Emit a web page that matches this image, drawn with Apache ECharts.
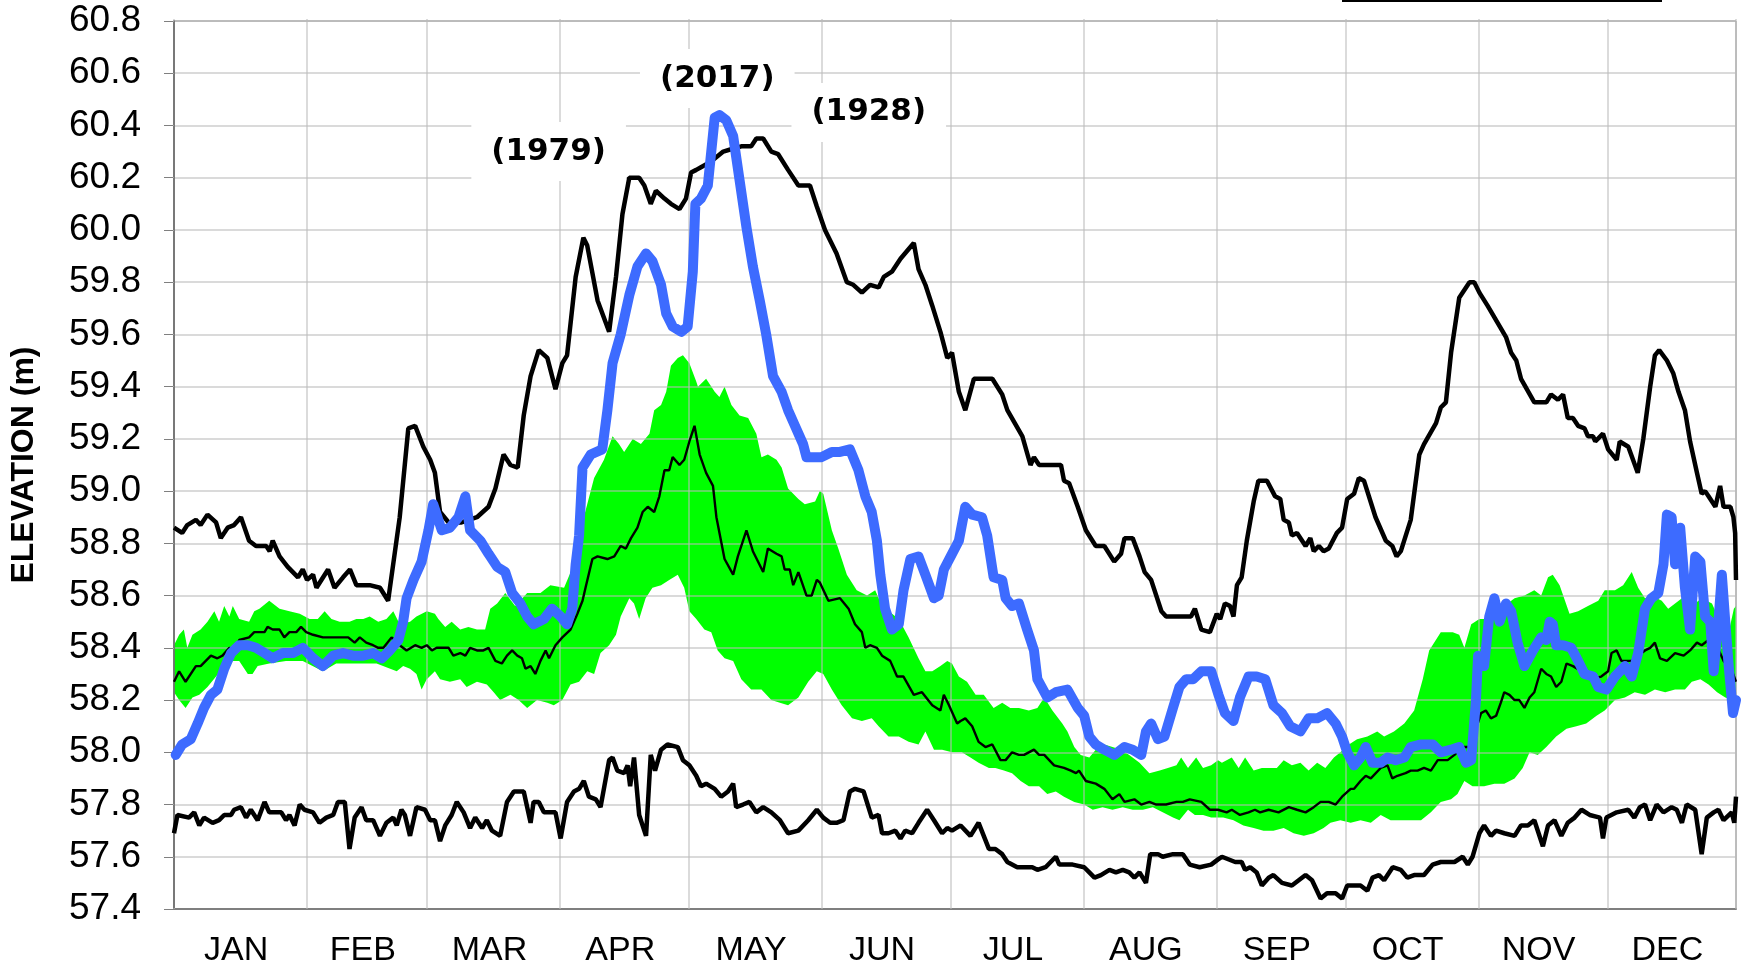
<!DOCTYPE html>
<html>
<head>
<meta charset="utf-8">
<script src="https://cdn.jsdelivr.net/npm/echarts@6/dist/echarts.min.js"></script>
<style>
html,body{margin:0;padding:0;background:#fff}
#chart{width:1746px;height:968px}
</style>
</head>
<body>
<div id="chart"></div>
<script>
// day of year (0 = Jan 1) and elevation (m)
var months = ['JAN','FEB','MAR','APR','MAY','JUN','JUL','AUG','SEP','OCT','NOV','DEC'];
var monthStart = [0,31,59,90,120,151,181,212,243,273,304,334,364];
var monthMid = [14.5,44,73.5,104,134.5,165,195.5,226.5,257,287.5,318,348];

var maxLine = [[0,58.86],[1.9,58.84],[3.1,58.87],[5.1,58.89],[6.2,58.87],[7.8,58.91],[9.8,58.88],[10.9,58.82],[12.5,58.86],[14,58.87],[15.6,58.9],[17.5,58.81],[19.1,58.79],[21.5,58.79],[22.3,58.77],[23,58.81],[24.6,58.75],[26.5,58.71],[28.9,58.67],[30,58.7],[31,58.66],[32.4,58.68],[33.2,58.63],[35.9,58.7],[37.4,58.63],[39.4,58.67],[41,58.7],[42.5,58.64],[45.6,58.64],[48,58.63],[49.9,58.58],[52.6,58.9],[54.6,59.24],[56.2,59.25],[58.1,59.17],[59.7,59.12],[60.8,59.07],[62,58.92],[64,58.88],[67,58.88],[70.6,58.9],[73.3,58.94],[74.9,59.01],[76.8,59.14],[78.4,59.1],[80.1,59.09],[81.5,59.29],[83.1,59.44],[85,59.54],[87,59.51],[88.9,59.39],[90.5,59.49],[91.6,59.52],[93.6,59.82],[95.4,59.97],[96.3,59.94],[98.7,59.73],[101.4,59.61],[103,59.82],[104.5,60.06],[106.1,60.2],[108.4,60.2],[109.6,60.17],[111.1,60.1],[112.3,60.15],[114.3,60.12],[115.8,60.1],[117.8,60.08],[119.3,60.12],[120.5,60.22],[121.7,60.23],[122.8,60.24],[125,60.26],[128,60.3],[130,60.31],[132.2,60.32],[134.5,60.32],[135.7,60.35],[137.3,60.35],[139.2,60.3],[140.8,60.29],[143.1,60.23],[145.5,60.17],[148.2,60.17],[149.8,60.09],[151.7,60],[154.4,59.91],[156.8,59.8],[158.3,59.79],[160.3,59.76],[162.2,59.79],[164.2,59.78],[165.4,59.82],[167.3,59.84],[169.3,59.89],[172.4,59.95],[173.5,59.85],[175.1,59.79],[176.7,59.71],[178.6,59.61],[180.2,59.51],[181.3,59.53],[182.9,59.38],[184.4,59.31],[186.4,59.43],[190.7,59.43],[193,59.37],[194.2,59.31],[197.7,59.21],[199.6,59.1],[200.4,59.13],[201.6,59.1],[206.7,59.1],[207.4,59.04],[208.6,59.03],[210.6,58.94],[212.5,58.85],[214.8,58.79],[216.8,58.79],[219.1,58.73],[220.7,58.76],[221.5,58.82],[223.4,58.82],[225,58.75],[226.2,58.69],[227.7,58.66],[230.1,58.54],[231.2,58.52],[237,58.52],[237.9,58.55],[239.4,58.47],[241.4,58.46],[243,58.53],[243.8,58.51],[244.9,58.57],[246.1,58.56],[246.9,58.52],[247.7,58.64],[248.8,58.67],[250,58.81],[251.6,58.96],[252.7,59.04],[254.7,59.04],[256.6,58.98],[257.8,58.97],[258.6,58.89],[259.8,58.88],[260.5,58.83],[261.7,58.84],[263.7,58.79],[264.8,58.82],[265.6,58.77],[266.8,58.79],[267.9,58.77],[269.1,58.78],[271,58.84],[272.2,58.86],[273.4,58.97],[275,58.99],[276.1,59.05],[277.3,59.04],[280,58.9],[282.4,58.81],[283.9,58.79],[284.9,58.75],[285.9,58.77],[288.2,58.89],[290.2,59.14],[291.3,59.18],[294.1,59.26],[295.2,59.32],[296.4,59.34],[297.6,59.53],[299.5,59.74],[301.9,59.8],[303,59.8],[304.2,59.76],[306.1,59.71],[310.4,59.59],[311.6,59.53],[312.8,59.5],[313.9,59.43],[317,59.34],[319.8,59.34],[320.9,59.37],[322.5,59.35],[323.7,59.37],[324.8,59.28],[326,59.28],[327.2,59.25],[328.7,59.24],[329.5,59.21],[330.7,59.21],[331.2,59.19],[333,59.22],[334.2,59.16],[336.2,59.12],[336.9,59.19],[338.9,59.17],[341.1,59.07],[342.4,59.2],[344,59.4],[345.1,59.52],[346.1,59.54],[347.9,59.5],[349.4,59.45],[350.6,59.38],[352.1,59.31],[353.3,59.19],[354.9,59.07],[356,58.99],[356.8,59],[357.6,58.98],[359.2,58.94],[360.3,59.02],[361.1,58.94],[362.7,58.94],[363.4,58.9],[363.8,58.84],[364,58.66]];

var minLine = [[0,57.69],[0.8,57.76],[3.5,57.75],[4.7,57.77],[5.9,57.72],[7,57.75],[9,57.73],[10.5,57.74],[11.7,57.76],[13.3,57.76],[14,57.78],[15.6,57.79],[16.8,57.75],[17.9,57.78],[19.5,57.74],[21.1,57.81],[22.2,57.77],[25,57.77],[26.1,57.74],[26.9,57.76],[28.1,57.72],[29.3,57.8],[30.4,57.78],[32.4,57.77],[33.9,57.73],[35.5,57.75],[37.1,57.76],[38.2,57.81],[39.8,57.81],[40.9,57.63],[42.1,57.75],[43.7,57.79],[44.8,57.74],[46.4,57.74],[48,57.68],[49.5,57.73],[51.1,57.75],[51.9,57.72],[53,57.78],[53.8,57.76],[55,57.68],[56.5,57.79],[58.5,57.78],[59.7,57.74],[60.8,57.74],[62,57.66],[63.2,57.72],[64.7,57.76],[65.9,57.81],[67.5,57.77],[69,57.71],[70.2,57.75],[71.8,57.71],[72.9,57.74],[74.1,57.7],[76,57.68],[77.6,57.81],[79.2,57.85],[81.5,57.85],[83.1,57.73],[83.8,57.81],[85,57.81],[86.2,57.77],[88.9,57.77],[90.1,57.67],[91.6,57.81],[93.2,57.85],[94.4,57.86],[95.5,57.89],[96.7,57.83],[98.3,57.82],[99.4,57.79],[101.4,57.97],[102.2,57.98],[103.3,57.93],[104.9,57.92],[105.7,57.95],[106.3,57.87],[107.2,57.98],[108.4,57.76],[110,57.68],[111.1,57.99],[112.1,57.93],[113.5,58.01],[115,58.03],[117.4,58.02],[118.6,57.97],[120.1,57.95],[121.7,57.91],[122.8,57.87],[124,57.88],[126,57.86],[127.5,57.83],[129.1,57.85],[130.3,57.88],[131,57.79],[132.6,57.8],[134.1,57.81],[135.7,57.77],[137.3,57.79],[139.2,57.77],[141.2,57.74],[143.1,57.69],[145.5,57.7],[147.8,57.74],[149.8,57.78],[151.3,57.75],[152.9,57.73],[154.4,57.73],[156,57.74],[157.5,57.85],[158.7,57.86],[160.7,57.85],[162.6,57.75],[164.2,57.76],[165,57.69],[166.5,57.69],[168.1,57.7],[169.3,57.67],[170.4,57.7],[172,57.69],[173.5,57.73],[175.5,57.78],[177.1,57.74],[179,57.69],[180.2,57.71],[181.3,57.7],[183.3,57.72],[185.6,57.68],[187.5,57.73],[189.9,57.63],[191.4,57.63],[193,57.61],[194.2,57.58],[196.5,57.56],[200,57.56],[201.2,57.55],[203.1,57.56],[205.5,57.6],[206.3,57.57],[209.4,57.57],[212.1,57.56],[213.3,57.54],[214.5,57.52],[216,57.53],[218,57.55],[219.5,57.54],[221.1,57.55],[222.6,57.54],[223.8,57.52],[225,57.54],[226.5,57.5],[227.5,57.61],[229.3,57.61],[230.4,57.6],[232.8,57.61],[235.1,57.61],[236.7,57.57],[239,57.56],[241.7,57.57],[243.3,57.59],[244.2,57.6],[247.3,57.58],[248.8,57.58],[249.6,57.55],[250.8,57.56],[252.3,57.54],[253.5,57.49],[255.1,57.52],[256.2,57.53],[258.2,57.5],[260.5,57.49],[262.1,57.51],[263.7,57.53],[265.2,57.51],[267.2,57.44],[268.7,57.46],[270.7,57.46],[272.2,57.44],[273.4,57.49],[275.4,57.49],[276.5,57.49],[278.1,57.47],[279.3,57.52],[280.8,57.53],[282,57.51],[284,57.56],[285.9,57.55],[287.4,57.52],[289,57.53],[291.3,57.53],[293.3,57.57],[295.2,57.58],[298.4,57.58],[300.3,57.6],[301.5,57.57],[302.6,57.6],[304.2,57.69],[305.3,57.72],[306.9,57.68],[308.1,57.7],[310,57.69],[312.4,57.68],[313.9,57.72],[315.5,57.72],[317,57.74],[319,57.64],[320.2,57.72],[321.7,57.74],[323.3,57.68],[324.8,57.73],[326.4,57.75],[328,57.78],[329.9,57.76],[332.3,57.75],[333,57.67],[333.8,57.75],[336.2,57.77],[338.9,57.78],[340.3,57.75],[341.6,57.79],[342.8,57.8],[344,57.74],[345.5,57.8],[347.1,57.77],[349,57.79],[350.2,57.78],[351.4,57.73],[352.5,57.8],[354.5,57.78],[356,57.61],[357.2,57.75],[358.8,57.77],[359.9,57.78],[361.1,57.74],[363,57.77],[363.6,57.73],[364,57.83]];

var meanLine = [[0,58.27],[1.2,58.31],[2.7,58.27],[5.1,58.33],[6.2,58.33],[7.4,58.35],[8.6,58.37],[10.1,58.36],[11.3,58.37],[12.9,58.4],[14,58.39],[15.2,58.43],[17.5,58.44],[18.7,58.46],[19.9,58.46],[21.1,58.46],[21.8,58.48],[23,58.47],[24.6,58.47],[25.7,58.44],[26.9,58.46],[28.5,58.46],[29.6,58.48],[30.8,58.46],[32.4,58.45],[34.7,58.44],[37.8,58.44],[40.6,58.44],[42.1,58.42],[43.3,58.44],[44.8,58.42],[46.4,58.41],[47.6,58.4],[48.8,58.4],[50.7,58.44],[52.6,58.41],[54.2,58.39],[56.2,58.41],[57.7,58.4],[58.9,58.41],[60.1,58.39],[61.2,58.4],[64,58.4],[65.1,58.37],[66.7,58.38],[67.9,58.37],[69,58.4],[70.6,58.39],[72.1,58.39],[73.3,58.4],[74.9,58.35],[76.4,58.34],[77.6,58.37],[78.8,58.39],[80,58.37],[81.1,58.36],[81.9,58.32],[83.1,58.33],[84.2,58.3],[85.4,58.35],[86.6,58.39],[87.4,58.36],[88.9,58.41],[90.5,58.44],[92.4,58.47],[94,58.53],[95.2,58.58],[95.9,58.63],[97.5,58.74],[98.7,58.75],[101,58.74],[102.6,58.75],[104.1,58.79],[105.3,58.78],[106.5,58.82],[108,58.86],[109.2,58.92],[110.4,58.94],[111.9,58.92],[113.1,58.98],[114.3,59.08],[115.4,59.08],[116.2,59.13],[117.8,59.1],[118.9,59.12],[120.1,59.19],[121.3,59.25],[122.5,59.14],[124,59.07],[125.6,59.02],[126.4,58.9],[128.3,58.74],[130.3,58.68],[131.4,58.75],[133.4,58.85],[134.9,58.77],[137.3,58.69],[138.4,58.78],[140.4,58.76],[141.6,58.75],[142.3,58.7],[143.5,58.7],[144.3,58.64],[145.5,58.69],[147.4,58.6],[148.6,58.6],[149.8,58.66],[150.5,58.65],[152.5,58.58],[155.2,58.59],[157.2,58.55],[158.7,58.49],[160.3,58.46],[161.1,58.4],[162.2,58.41],[163.8,58.4],[165,58.37],[166.9,58.35],[168.5,58.29],[170,58.29],[172.4,58.22],[174.3,58.23],[176.7,58.18],[178.6,58.16],[179.4,58.22],[180.6,58.18],[182.5,58.11],[183.3,58.12],[184.4,58.13],[186,58.1],[187.5,58.04],[189.1,58.02],[190.7,58.03],[192.6,57.97],[193.8,57.97],[195.3,58],[196.9,57.99],[198.1,57.99],[200.4,58.01],[201.6,57.99],[202.8,57.99],[205.1,57.95],[207.4,57.94],[209,57.93],[210.2,57.92],[210.9,57.93],[212.5,57.89],[214.8,57.88],[216.8,57.86],[218.7,57.82],[220.3,57.84],[221.5,57.81],[223.8,57.82],[225.4,57.8],[227.3,57.81],[228.9,57.8],[231.2,57.8],[233.6,57.81],[235.1,57.81],[236.7,57.82],[239.4,57.81],[241.4,57.78],[243.3,57.78],[245.3,57.77],[246.5,57.78],[248.4,57.76],[250.4,57.77],[251.9,57.78],[253.1,57.77],[255.1,57.78],[257.4,57.77],[259.8,57.79],[261.7,57.78],[263.7,57.77],[265.6,57.79],[267.2,57.81],[269.1,57.81],[270.7,57.8],[272.2,57.83],[274.2,57.86],[275,57.86],[276.5,57.89],[277.7,57.91],[278.9,57.9],[281.2,57.94],[282.8,57.95],[283.9,57.9],[285.1,57.91],[287,57.92],[288.2,57.93],[289.8,57.93],[291.3,57.94],[292.9,57.93],[294.5,57.97],[296.8,57.97],[298.4,57.99],[300,58.02],[302,58.02],[303.8,58.11],[304.6,58.15],[305.7,58.16],[306.9,58.13],[308.1,58.14],[309.2,58.19],[310,58.23],[311.2,58.22],[312.4,58.2],[313.5,58.2],[314.7,58.17],[315.9,58.21],[317,58.23],[318.6,58.32],[319.8,58.3],[320.9,58.29],[322.1,58.25],[323.3,58.27],[324.5,58.34],[326,58.33],[328,58.31],[329.9,58.28],[332.6,58.29],[334.2,58.31],[335,58.38],[336.2,58.39],[337.3,58.35],[339.7,58.35],[341.2,58.37],[342.8,58.39],[344,58.4],[345.1,58.42],[346.3,58.36],[347.9,58.35],[349.8,58.38],[351.8,58.37],[353.3,58.39],[354.9,58.42],[356,58.41],[357.6,58.43],[359.2,58.42],[361.1,58.35],[363.1,58.31],[364,58.27]];

var bandHigh = [[0,58.41],[1.2,58.45],[2.3,58.47],[3.1,58.4],[4.3,58.45],[6.2,58.47],[7.8,58.5],[9.4,58.54],[10.5,58.5],[11.7,58.56],[12.9,58.52],[13.7,58.56],[15.2,58.51],[17.5,58.5],[18.7,58.54],[19.9,58.55],[22.2,58.58],[24.6,58.55],[26.9,58.54],[29.3,58.53],[31.6,58.51],[33.5,58.51],[35.1,58.54],[36.7,58.51],[38.6,58.5],[40.9,58.5],[42.5,58.51],[44.1,58.51],[45.6,58.52],[47.6,58.5],[49.5,58.51],[51.1,58.54],[52.6,58.49],[55,58.5],[56.5,58.52],[58.9,58.54],[60.8,58.53],[61.6,58.51],[63.2,58.48],[64.7,58.5],[66.7,58.47],[68.6,58.48],[70.6,58.47],[72.5,58.47],[73.7,58.55],[75.3,58.57],[77.2,58.61],[79.5,58.56],[82.3,58.61],[85.4,58.61],[87.7,58.64],[90.9,58.63],[93.2,58.72],[95.5,58.9],[97.9,59.05],[100.2,59.12],[102.2,59.21],[103.7,59.18],[104.9,59.15],[106.9,59.2],[108.8,59.18],[110.8,59.22],[111.9,59.31],[113.5,59.33],[114.7,59.38],[115.8,59.48],[117.4,59.51],[118.6,59.52],[120.1,59.49],[121.7,59.42],[122.1,59.4],[124,59.43],[126,59.38],[127.1,59.36],[128.3,59.4],[129.9,59.33],[131.8,59.29],[133.8,59.28],[135.7,59.22],[136.9,59.13],[138.4,59.14],[140.4,59.12],[141.6,59.09],[143.1,59.01],[145.5,58.97],[147,58.95],[149.4,58.96],[150.5,59],[151.3,58.99],[153.3,58.85],[154.8,58.78],[156.8,58.68],[159.1,58.62],[161.5,58.6],[163.4,58.62],[165,58.56],[168.9,58.51],[171.2,58.44],[173.5,58.36],[175.1,58.31],[176.7,58.31],[178.6,58.33],[180.2,58.35],[181.3,58.34],[182.9,58.29],[184.8,58.27],[186.8,58.22],[188.7,58.22],[191,58.17],[193,58.19],[194.9,58.17],[196.9,58.17],[199.2,58.16],[201.2,58.17],[202.8,58.21],[204.7,58.16],[207,58.11],[208.2,58.08],[209.8,58.02],[211.3,57.99],[213.3,57.98],[214.8,58.01],[216.8,58.03],[218.7,58.02],[220.7,58.01],[222.6,57.99],[225,57.96],[227.3,57.92],[229.7,57.93],[231.6,57.94],[233.6,57.95],[234.7,57.98],[236.3,57.94],[238.2,57.98],[239.8,57.94],[241.7,57.95],[243.3,57.97],[244.2,57.96],[246.5,57.98],[248.1,57.94],[249.6,57.98],[251.6,57.93],[253.5,57.94],[255.5,57.94],[257,57.94],[258.6,57.97],[260.5,57.95],[262.5,57.96],[264.4,57.93],[266.4,57.96],[268.3,57.94],[270.3,57.98],[271.8,58],[273.8,58.03],[275.7,58.05],[278.1,58.06],[280.4,58.08],[282,58.06],[284.3,58.08],[286.7,58.11],[289,58.16],[291,58.28],[292.5,58.39],[295.2,58.46],[298,58.46],[299.5,58.45],[300.7,58.4],[302.3,58.49],[304.2,58.51],[305.3,58.51],[307.7,58.55],[310,58.56],[312.4,58.59],[314.7,58.6],[317,58.62],[318.6,58.6],[320.2,58.67],[321.3,58.68],[322.9,58.64],[325.2,58.53],[327.2,58.54],[329.5,58.56],[331.9,58.58],[333.4,58.62],[335.8,58.62],[337.7,58.64],[339.7,58.69],[341.2,58.63],[342.8,58.59],[344.3,58.6],[346.7,58.58],[348.2,58.55],[349.8,58.57],[351.4,58.59],[353.7,58.56],[356,58.59],[358.4,58.57],[360.3,58.5],[362.3,58.46],[363.5,58.55],[364,58.56]];

var bandLow = [[0,58.23],[1.2,58.2],[2.7,58.17],[4.3,58.21],[5.9,58.22],[7.8,58.25],[9.8,58.29],[11.7,58.33],[13.7,58.35],[15.2,58.35],[17.2,58.3],[18.3,58.3],[19.5,58.33],[22.2,58.34],[26.1,58.35],[30,58.35],[34.7,58.31],[37.8,58.34],[42.5,58.34],[47.2,58.34],[51.9,58.31],[53.4,58.33],[55,58.32],[56.5,58.3],[57.7,58.24],[58.9,58.28],[60.8,58.31],[62,58.28],[64.3,58.27],[66.7,58.28],[68.2,58.25],[70.6,58.27],[72.9,58.26],[74.5,58.23],[76,58.2],[78.4,58.22],[80.3,58.2],[82.3,58.17],[84.6,58.2],[87,58.19],[88.5,58.18],[90.5,58.2],[92.4,58.26],[94.4,58.27],[96.3,58.31],[97.9,58.3],[99.4,58.38],[101.4,58.41],[103,58.45],[104.1,58.52],[106.1,58.59],[107.2,58.57],[108.4,58.51],[109.9,58.59],[111.5,58.63],[113.5,58.64],[115.4,58.66],[117.4,58.68],[118.9,58.63],[120.1,58.54],[121.7,58.51],[123.6,58.47],[125.2,58.46],[126.7,58.39],[128.3,58.36],[130.3,58.35],[132.2,58.28],[134.5,58.24],[136.9,58.24],[139.2,58.2],[141.2,58.19],[143.1,58.18],[145.5,58.21],[147.8,58.27],[149.8,58.31],[151.3,58.3],[153.3,58.24],[155.6,58.18],[158,58.13],[160.3,58.12],[162.6,58.13],[164.2,58.1],[166.5,58.06],[168.9,58.06],[171.2,58.04],[173.5,58.03],[175.1,58.08],[177.1,58.01],[179,58.01],[181.3,58],[183.6,58],[185.6,57.98],[187.5,57.96],[189.9,57.94],[191.4,57.94],[193.4,57.93],[195.3,57.92],[197.3,57.89],[199.2,57.87],[201.6,57.87],[203.5,57.84],[205.5,57.85],[207.4,57.83],[209.8,57.81],[212.1,57.8],[214.1,57.78],[216.4,57.79],[218.7,57.78],[221.1,57.79],[223.4,57.78],[225.8,57.78],[228.1,57.79],[230.4,57.77],[232.8,57.75],[234.3,57.74],[236.3,57.78],[237.9,57.76],[239.8,57.76],[241.7,57.75],[243.3,57.75],[244.5,57.75],[246.9,57.74],[249.2,57.72],[251.6,57.71],[253.9,57.7],[256.2,57.7],[258.6,57.71],[260.9,57.69],[263.3,57.68],[265.6,57.69],[267.9,57.71],[269.5,57.73],[271.8,57.74],[274.2,57.73],[276.5,57.74],[278.9,57.73],[281.2,57.76],[283.5,57.74],[285.9,57.74],[288.2,57.74],[290.6,57.74],[292.9,57.77],[295.2,57.81],[297.6,57.82],[299.1,57.84],[300.7,57.89],[302.6,57.87],[305.3,57.87],[307.7,57.88],[310,57.88],[312.4,57.9],[314.3,57.94],[315.9,58],[317.8,57.99],[319.8,58.02],[322.1,58.06],[324.5,58.09],[326.8,58.1],[329.1,58.11],[331.5,58.14],[333.4,58.16],[335.8,58.2],[338.1,58.21],[340.4,58.23],[342.8,58.22],[345.1,58.24],[347.5,58.23],[349.8,58.24],[352.1,58.24],[353.7,58.27],[355.7,58.28],[357.6,58.26],[359.6,58.23],[361.5,58.21],[363.5,58.2],[364,58.19]];

var year2017 = [[0.4,57.99],[1.9,58.03],[3.9,58.05],[5.5,58.11],[7,58.17],[8.6,58.22],[10.1,58.24],[11.7,58.32],[13.3,58.38],[15.2,58.41],[17.2,58.41],[19.1,58.4],[21.1,58.38],[23,58.36],[25.4,58.38],[27.7,58.38],[30,58.4],[32.4,58.36],[34.7,58.33],[37.1,58.37],[39.4,58.38],[41.7,58.37],[44.1,58.37],[46.4,58.38],[48.4,58.36],[50.3,58.39],[52.3,58.43],[53.4,58.5],[54.2,58.59],[55.8,58.66],[57.7,58.73],[59.3,58.85],[60.4,58.95],[62.4,58.85],[64.3,58.86],[66.3,58.9],[67.9,58.98],[69,58.85],[71.4,58.81],[73.3,58.76],[75.3,58.71],[77.2,58.69],[78.8,58.61],[80.7,58.57],[82.3,58.52],[83.8,58.49],[86.2,58.51],[88.1,58.55],[90.1,58.52],[91.6,58.49],[92.8,58.55],[93.6,58.72],[94.4,58.83],[95.2,59.09],[97.1,59.14],[99.8,59.16],[101,59.31],[102.2,59.49],[104.1,59.6],[106.1,59.75],[108,59.86],[110,59.91],[111.5,59.88],[113.5,59.79],[114.7,59.68],[116.2,59.63],[118.2,59.61],[119.7,59.63],[120.9,59.84],[121.5,60.1],[122.8,60.12],[124.4,60.17],[125.2,60.3],[126,60.43],[127.1,60.44],[128.7,60.42],[130.3,60.36],[131.8,60.19],[133.4,60.01],[134.9,59.86],[136.5,59.73],[138,59.6],[139.6,59.44],[141.6,59.38],[143.1,59.31],[144.7,59.25],[146.6,59.18],[147.4,59.13],[149,59.13],[150.9,59.13],[153.3,59.15],[155.2,59.15],[157.5,59.16],[159.5,59.08],[161.1,58.98],[162.6,58.92],[163.8,58.81],[164.6,58.68],[165.7,58.55],[167.3,58.47],[168.9,58.49],[170,58.62],[171.6,58.74],[173.5,58.75],[175.1,58.68],[177.1,58.59],[178.2,58.6],[179.4,58.7],[181,58.75],[182.9,58.81],[184.4,58.94],[186,58.91],[188.3,58.9],[189.5,58.83],[191,58.67],[193,58.66],[193.8,58.59],[195.3,58.56],[196.9,58.57],[198.8,58.47],[200.4,58.39],[201.2,58.28],[203.5,58.21],[205.5,58.23],[208.2,58.24],[210.6,58.17],[212.1,58.14],[213.3,58.06],[214.8,58.03],[216.8,58.01],[219.1,57.99],[221.5,58.02],[223.4,58.01],[225.4,57.99],[226.5,58.08],[227.7,58.11],[229.3,58.05],[230.8,58.06],[232.8,58.17],[234.3,58.25],[235.9,58.28],[237.5,58.28],[239.4,58.31],[241.7,58.31],[243.4,58.22],[244.9,58.15],[246.9,58.12],[248.4,58.21],[250.4,58.29],[252.3,58.29],[254.3,58.28],[256.2,58.18],[258.2,58.15],[260.1,58.1],[262.5,58.08],[264.4,58.13],[266.4,58.13],[268.7,58.15],[270.7,58.11],[272.2,58.06],[273.4,58],[275,57.95],[276.5,57.98],[277.7,58.02],[279.3,57.96],[281.2,57.96],[282.8,57.98],[284.7,57.97],[286.7,57.98],[288.2,58.02],[290.6,58.03],[293.3,58.03],[295.2,58],[297.6,58.01],[299.5,58.02],[301.1,57.96],[302.3,57.97],[303.4,58.2],[303.9,58.37],[305.3,58.33],[306.5,58.52],[307.7,58.59],[308.9,58.5],[310.4,58.57],[311.6,58.54],[313.1,58.42],[314.7,58.33],[316.7,58.39],[318.6,58.44],[319.8,58.43],[320.6,58.5],[321.3,58.49],[322.1,58.41],[323.7,58.41],[325.6,58.4],[327.2,58.35],[328.7,58.3],[330.7,58.29],[331.9,58.25],[333.8,58.24],[335.8,58.29],[338.1,58.33],[339.7,58.29],[341.2,58.38],[342.8,58.55],[344.3,58.59],[345.9,58.61],[347.1,58.72],[347.9,58.91],[349,58.9],[349.8,58.72],[351,58.86],[352.1,58.63],[353.3,58.47],[354.5,58.75],[355.7,58.73],[356.8,58.52],[358,58.5],[358.8,58.31],[359.9,58.5],[360.7,58.68],[361.5,58.5],[362.3,58.33],[363.3,58.15],[364,58.2]];

var yearLabels = ['(1979)', '(2017)', '(1928)'];

var chart = echarts.init(document.getElementById('chart'));
var gridColor = 'rgba(185,185,185,0.7)';
var font = 'Liberation Sans, Arial, sans-serif';

function monthName(v) {
    for (var i = 0; i < monthMid.length; i++) {
        if (Math.abs(monthMid[i] - v) < 0.01) return months[i];
    }
    return '';
}

var option = {
    animation: false,
    grid: {left: 174, right: 10, top: 21, bottom: 57, show: true, borderColor: '#7f7f7f', borderWidth: 1},
    xAxis: {
        type: 'value', min: 0, max: 364, z: 2,
        axisLine: {lineStyle: {color: '#7f7f7f', width: 2}},
        axisTick: {show: true, inside: true, length: 890, customValues: monthStart, lineStyle: {color: gridColor, width: 1.5}},
        axisLabel: {customValues: monthMid, formatter: monthName, fontSize: 34, color: '#000', margin: 25, fontFamily: font},
        splitLine: {show: false}
    },
    yAxis: {
        type: 'value', min: 57.4, max: 60.8, interval: 0.2, z: 2,
        name: 'ELEVATION (m)', nameLocation: 'middle', nameGap: 134,
        nameTextStyle: {fontSize: 32, fontWeight: 'bold', color: '#000', fontFamily: font},
        axisLine: {show: true, lineStyle: {color: '#000', width: 1.5}},
        axisTick: {show: true, length: 10, lineStyle: {color: '#7f7f7f'}},
        axisLabel: {fontSize: 37, color: '#000', margin: 33, fontFamily: font,
            formatter: function (v) { return v.toFixed(1); }},
        splitLine: {lineStyle: {color: gridColor, width: 1.5}}
    },
    series: [
        {
            name: 'band', type: 'custom', z: 1, silent: true,
            data: [[0, 58]],
            renderItem: function (params, api) {
                var pts = bandHigh.map(function (p) { return api.coord(p); })
                    .concat(bandLow.slice().reverse().map(function (p) { return api.coord(p); }));
                return {type: 'polygon', shape: {points: pts}, style: {fill: '#00ff00'}};
            }
        },
        {name: 'mean', type: 'line', z: 3, data: meanLine, symbol: 'none', lineStyle: {color: '#000', width: 2.4}},
        {name: 'max', type: 'line', z: 3, data: maxLine, symbol: 'none', lineStyle: {color: '#000', width: 4.5}},
        {name: 'min', type: 'line', z: 3, data: minLine, symbol: 'none', lineStyle: {color: '#000', width: 4.5}},
        {name: '2017', type: 'line', z: 4, data: year2017, symbol: 'none',
            lineStyle: {color: '#3d6bff', width: 10, join: 'round', cap: 'round'}}
    ]
};

chart.setOption(option);

// year labels anchored in data space
var anchors = [[87.3, 60.30], [126.6, 60.58], [161.9, 60.45]];
var graphics = yearLabels.map(function (t, i) {
    var p = chart.convertToPixel({gridIndex: 0}, anchors[i]);
    return {
        type: 'text', x: p[0], y: p[1], z: 100,
        style: {text: t, font: 'bold 31px "DejaVu Sans"', fill: '#000', align: 'center', verticalAlign: 'middle',
            backgroundColor: '#fff', padding: [14, 20]}
    };
});
graphics.push({type: 'line', z: 100, shape: {x1: 1342, y1: 1, x2: 1662, y2: 1}, style: {stroke: '#000', lineWidth: 2}});
chart.setOption({graphic: graphics});
</script>
</body>
</html>
